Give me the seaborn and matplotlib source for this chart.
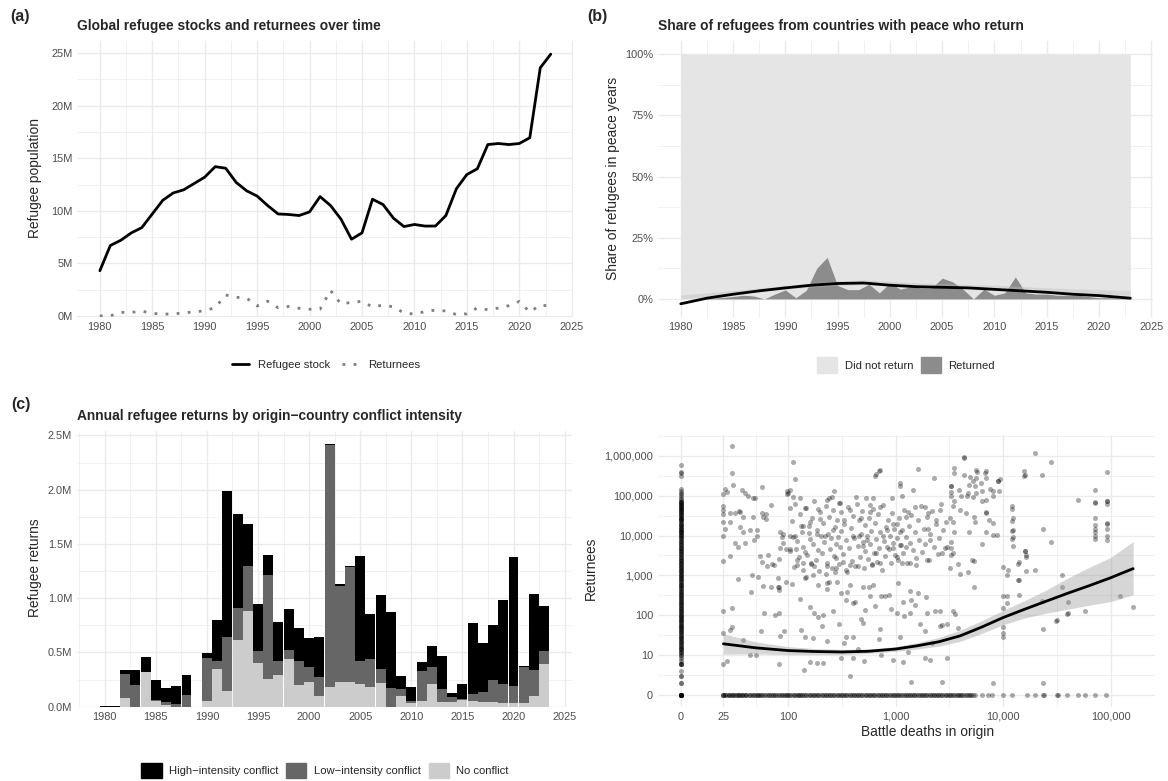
import numpy as np
import pandas as pd
import matplotlib
matplotlib.use("Agg")
import matplotlib.pyplot as plt
import seaborn as sns
from matplotlib.patches import Patch
from matplotlib.lines import Line2D
from matplotlib.ticker import FixedLocator, FixedFormatter

# ---------------- data ----------------
years = list(range(1980, 2024))

# (a) global refugee stock and returnees, millions
refugee_stock_m = [4.3, 6.7, 7.2, 7.9, 8.4, 9.7, 11.0, 11.7, 12.0, 12.6, 13.2, 14.2, 14.05, 12.7,
                   11.9, 11.4, 10.5, 9.7, 9.65, 9.55, 9.9, 11.35, 10.5, 9.2, 7.3, 7.9, 11.1, 10.6,
                   9.3, 8.5, 8.7, 8.55, 8.55, 9.55, 12.1, 13.45, 14.0, 16.3, 16.4, 16.3, 16.4,
                   16.95, 23.6, 24.9]
returnees_m = [0.005, 0.005, 0.34, 0.34, 0.46, 0.25, 0.17, 0.19, 0.29, 0.39, 0.49, 0.80, 1.99,
               1.78, 1.69, 0.95, 1.40, 0.78, 0.90, 0.73, 0.64, 0.64, 2.42, 1.13, 1.30, 1.39, 0.86,
               1.03, 0.87, 0.28, 0.18, 0.41, 0.56, 0.47, 0.13, 0.21, 0.77, 0.59, 0.75, 0.98, 1.38,
               0.37, 1.04, 0.93]

# (b) share of refugees in peace years who returned (%)
returned_share = [0.0, 0.0, 0.0, 0.3, 0.6, 1.0, 1.5, 1.2, 0.0, 2.0, 3.7, 0.5, 3.5, 12.5, 17.0,
                  5.5, 3.8, 3.8, 6.0, 2.5, 6.5, 4.0, 5.0, 4.5, 4.5, 8.5, 7.0, 4.0, 0.0, 4.0, 1.5,
                  2.5, 9.0, 2.5, 2.0, 2.0, 1.5, 1.5, 1.5, 1.0, 0.5, 0.5, 0.3, 0.3]
trend_years_b = [1980, 1982.5, 1985, 1987.5, 1990, 1992.5, 1995, 1997.5, 2000, 2002.5, 2005,
                 2007.5, 2010, 2012.5, 2015, 2017.5, 2020, 2023]
trend_share_b = [-2.0, 0.3, 1.9, 3.3, 4.5, 5.6, 6.3, 6.5, 5.6, 5.0, 4.75, 4.5, 3.9, 3.3, 2.7,
                 1.9, 1.35, 0.3]
band_lo_b = [0.0, 1.0, 2.0, 3.0, 3.9, 4.8, 5.5, 5.9, 5.3, 4.9, 4.6, 4.3, 4.0, 3.5, 3.0, 2.4, 1.9, 1.5]
band_hi_b = [1.6, 2.5, 3.4, 4.4, 5.4, 6.5, 7.4, 7.8, 7.2, 6.6, 6.2, 5.9, 5.6, 5.1, 4.6, 4.2, 3.8, 3.5]

# (c) annual returns by conflict intensity, millions (stack components)
no_conflict_m = [0.0, 0.0, 0.083, 0.0, 0.323, 0.052, 0.02, 0.0, 0.0, 0.0, 0.052, 0.347, 0.145,
                 0.615, 0.883, 0.403, 0.255, 0.292, 0.44, 0.20, 0.228, 0.098, 0.181, 0.228,
                 0.228, 0.212, 0.181, 0.22, 0.0, 0.098, 0.034, 0.052, 0.209, 0.043, 0.043,
                 0.062, 0.052, 0.043, 0.043, 0.037, 0.03, 0.03, 0.10, 0.394]
low_conflict_m = [0.0, 0.0, 0.217, 0.20, 0.0, 0.010, 0.02, 0.028, 0.108, 0.0, 0.40, 0.073,
                  0.498, 0.295, 0.415, 0.11, 0.96, 0.128, 0.083, 0.22, 0.135, 0.176, 2.234,
                  0.889, 1.06, 0.208, 0.259, 0.127, 0.172, 0.065, 0.018, 0.277, 0.157, 0.12,
                  0.049, 0.009, 0.065, 0.092, 0.203, 0.172, 0.16, 0.333, 0.238, 0.116]
high_conflict_m = [0.005, 0.005, 0.038, 0.138, 0.132, 0.184, 0.132, 0.162, 0.184, 0.0, 0.043,
                   0.38, 1.347, 0.865, 0.387, 0.434, 0.185, 0.36, 0.377, 0.305, 0.273, 0.369,
                   0.008, 0.015, 0.01, 0.969, 0.415, 0.683, 0.701, 0.12, 0.129, 0.083, 0.194,
                   0.304, 0.034, 0.138, 0.655, 0.452, 0.507, 0.775, 1.188, 0.009, 0.702, 0.418]
conflict_levels = ["High\u2212intensity conflict", "Low\u2212intensity conflict", "No conflict"]

# (d) returnees vs battle deaths (zeros shown at the "0" positions)
col0_returnees = [0, 0, 0, 0, 0, 0, 0, 0, 0, 0, 2, 2, 3, 3, 4, 6, 6, 6, 6, 7, 8, 9, 10, 10, 11,
                  12, 13, 14, 15, 16, 18, 20, 21, 23, 25, 27, 30, 32, 35, 38, 40, 44, 48, 52, 55,
                  60, 65, 70, 76, 82, 90, 95, 100, 110, 120, 130, 140, 150, 165, 180, 195, 210,
                  230, 250, 270, 290, 320, 350, 380, 410, 450, 490, 530, 580, 620, 680, 740, 800,
                  870, 950, 1000, 1100, 1200, 1300, 1400, 1500, 1650, 1800, 1950, 2100, 2300,
                  2500, 2700, 2900, 3200, 3500, 3800, 4100, 4500, 4900, 5300, 5800, 6300, 6800,
                  7400, 8000, 8700, 9500, 10000, 11000, 12000, 13000, 14000, 15500, 17000,
                  18500, 20000, 22000, 24000, 26000, 28000, 30000, 33000, 36000, 39000, 42000,
                  46000, 50000, 55000, 60000, 65000, 70000, 12000, 15000, 25000, 35000, 45000,
                  52000, 62000, 68000, 75000, 82000, 90000, 100000, 110000, 120000, 135000,
                  150000, 320000, 380000, 400000, 600000,
                  12, 14, 17, 19, 22, 26, 29, 34, 39, 45, 51, 58, 66, 75, 86, 98, 112, 128, 146,
                  166, 190, 216, 246, 281, 320, 365, 416, 474, 540, 616, 702, 800, 912, 1040,
                  1185, 1350, 1540, 1755, 2000, 2280, 2600, 2960, 3380, 3850, 4390, 5000, 5700,
                  6500, 7410, 8450, 9630, 11000, 12500, 14300, 16300, 18500, 21100, 24100,
                  27500, 31300, 35700, 40700, 46400, 52900, 60300, 68700]
row0_deaths = [25, 25, 25, 26, 27, 28, 29, 30, 31, 32, 33, 34, 35, 36, 37, 38, 40, 41, 43, 45,
               47, 49, 51, 53, 55, 57, 60, 63, 66, 69, 72, 75, 78, 82, 86, 90, 94, 98, 100, 105,
               110, 115, 120, 125, 130, 136, 142, 148, 155, 162, 170, 178, 186, 195, 205, 215,
               225, 235, 246, 258, 270, 283, 296, 310, 325, 340, 356, 373, 390, 409, 428, 448,
               470, 492, 515, 540, 565, 592, 620, 650, 680, 712, 746, 781, 818, 857, 898, 940,
               985, 1030, 1080, 1130, 1185, 1240, 1300, 1360, 1425, 1490, 1560, 1640, 1720,
               1800, 1880, 1970, 2070, 2170, 2270, 2380, 2490, 2610, 2730, 2860, 3000, 3150,
               3300, 3450, 3620, 3800, 3980, 4170, 4370, 4580, 4800, 5030, 5270, 5520, 6300,
               7300, 7800, 10000, 12000, 16700, 20000, 23500, 23800, 31500, 32500, 39500, 50000,
               58000, 71000, 91000,
               26, 28, 31, 34, 37, 41, 44, 48, 52, 56, 61, 67, 73, 80, 88, 96, 104, 114, 124,
               135, 147, 160, 175, 190, 207, 225, 245, 267, 290, 316, 344, 375, 408, 445, 485,
               528, 575, 627, 683, 744, 811, 883, 962, 1050, 1140, 1240, 1350, 1470, 1610, 1750,
               1900, 2070, 2260, 2460, 2680, 2920, 3180, 3460, 3770, 4100, 4470, 4870]
cloud_deaths = [25, 25, 25, 25, 25, 25, 25, 25, 25, 25, 26, 26, 27, 27, 29, 29, 29, 29, 30, 30,
                30, 30, 31, 32, 32, 34, 34, 35, 36, 36, 37, 38, 38, 38, 40, 40,
                42, 44, 44, 45, 46, 47, 47, 48, 49, 50, 51, 51, 53, 55, 56, 57, 57, 57, 59, 59,
                60, 62, 62, 63, 65, 69, 70, 71, 74, 75, 80, 80, 82, 82, 82, 83, 85, 88, 90, 91,
                95, 96, 98, 84, 90, 84, 82,
                104, 100, 97, 110, 112, 117, 104, 104, 105, 117, 118, 120, 122,
                660, 710, 1620, 2300, 1100, 920, 143, 190, 270, 240, 230, 255, 300, 430, 575,
                615, 575, 710, 480, 310, 330, 380, 200, 160, 133, 155, 185, 220, 263, 400, 460,
                540, 500, 660, 760, 830, 950, 1030, 1100, 1260, 1300, 1510, 1870, 2000, 2000,
                2400, 2580, 2090, 2980, 2700, 1940, 1560, 1370, 1140, 1030, 830, 950, 1100, 1260,
                710, 600, 450, 380, 345, 325, 280, 230, 175, 163, 137, 137, 148, 170, 230, 285,
                380, 310, 345, 400, 500, 575, 615, 730, 860, 1030, 1180, 1400, 1620, 1940, 2330,
                2580, 2700, 1870, 1370, 520, 500, 400, 345, 330, 230, 175, 210, 205, 143, 133,
                170, 310, 400, 505, 730, 950, 1180, 1400, 1870, 2090, 2700, 380, 185, 210, 140,
                160, 2980, 1100, 129, 137, 650, 700, 1090, 1450, 1150, 3300, 3900, 4100, 4650,
                4300, 5700, 6800, 9000,
                4300, 20000, 28000, 3500, 3500, 5600, 7000, 4300, 4900, 5600, 7000, 9300, 9000,
                5300, 4800, 5500, 6200, 15600, 15900, 15600, 23000, 3300, 3300, 4700, 5300, 5600,
                6300, 7600, 8000, 9100, 8000, 6400, 7000, 3300, 3400, 3500, 4000, 4500, 5500,
                5400, 7000, 7000, 7400, 8000, 8000, 8700, 7000, 3400, 3200, 3500, 4800, 3250,
                3300, 3400, 3300, 3200, 6400, 3800, 4000, 4700, 5100, 5400, 5400, 3400, 3600,
                3800, 12000, 12300, 12300, 12300, 12300, 14000, 16000, 16500, 20000, 23500,
                28000, 10000, 11000, 10800, 10000, 10800, 10800, 10000, 10000, 10000, 10000,
                14000, 14000, 23000, 23500, 35600, 35600, 40000, 40000, 32000, 58000, 50000,
                71000, 71000, 71000, 71000, 71000, 71000, 71000, 71000, 71000, 8000, 23500,
                93000, 93000, 93000, 93000, 93000, 93000, 93000, 93000, 93000, 122000, 160000,
                39600, 31000, 12100, 12100, 12100, 12100, 13800, 13800, 16000, 16500, 16500,
                105, 108, 113, 117, 121, 126, 129, 134, 139, 143, 147, 151, 156, 161, 163, 168,
                171, 176, 181, 186, 189, 194, 199, 203, 207, 212, 217, 223, 226, 231, 237, 242,
                246, 251, 257, 262, 266, 272, 277, 282, 287, 292, 297, 301, 306, 311, 144, 188,
                238, 275, 112,
                322, 333, 342, 353, 362, 372, 383, 392, 403, 414, 423, 433, 444, 452, 463, 474,
                483, 494, 503, 514, 523, 533, 547, 557, 568, 578, 592, 603, 617, 628, 646, 658,
                677, 692, 707, 723, 742, 763, 778, 802, 818, 843, 862, 884, 903, 922, 942, 963,
                983,
                1025, 1055, 1085, 1115, 1145, 1175, 1205, 1245, 1285, 1325, 1365, 1405, 1455,
                1505, 1555, 1605, 1655, 1705, 1765, 1825, 1885, 1955, 2025, 2105, 2185, 2265,
                2355, 2455, 2555, 2655, 2755, 2855, 2955,
                108, 130, 160, 190, 230, 260, 300, 350, 420, 480, 560, 640, 720, 800, 900, 1050,
                1200, 1350, 1500, 1700, 1900, 2200, 2600, 700, 1300, 450, 3000]
cloud_returnees = [110000, 55000, 45000, 35000, 22000, 10000, 2300, 130, 35, 6, 145000, 15000,
                   125000, 7, 37000, 22000, 3000, 42, 1800000, 380000, 150, 50, 190000, 38000,
                   6500, 5300, 800, 42000, 40000, 16000, 140000, 30000, 12000, 24, 120000, 6500,
                   100000, 14000, 10, 380, 1000, 30000, 90000, 7600, 88000, 10, 14000, 9500, 900,
                   3000, 40, 170000, 38000, 2200, 30000, 540, 112, 35000, 26000, 1700, 3300,
                   60000, 520, 1900, 1800, 100, 850, 500, 520, 420, 112, 6, 30, 9000, 11000, 40,
                   4500, 700, 130000, 12000, 6500, 5000, 2600,
                   140000, 115000, 110000, 95000, 700000, 260000, 50000, 9500, 4500, 9500, 4500,
                   1800, 2500,
                   360000, 445000, 480000, 280000, 204000, 90000, 48000, 46000, 130000, 90000,
                   80000, 92000, 67000, 95000, 60000, 90000, 40000, 52000, 27000, 40000, 25000,
                   43000, 26000, 22000, 17000, 11500, 11000, 10000, 14000, 10000, 10000, 7800,
                   5500, 3700, 10000, 14000, 19000, 20000, 12000, 30000, 40000, 52000, 52000,
                   36000, 15000, 25000, 45000, 7800, 5300, 3600, 2400, 1800, 2000, 2000, 2900,
                   5300, 5000, 5800, 5300, 2000, 1800, 1700, 1800, 1400, 2200, 1500, 1700, 1700,
                   2100, 2000, 1400, 930, 1000, 630, 700, 570, 355, 240, 200, 520, 295, 570, 295,
                   320, 112, 220, 240, 355, 112, 125, 52, 57, 40, 112, 135, 63, 29, 29, 20, 23,
                   112, 100, 52, 29, 43, 27, 8.5, 8.5, 7, 10, 7.5, 6.5, 2.1, 8.5, 7.5, 2.1, 3, 6.2,
                   6.2, 4.2, 6.5, 8.5, 29, 90000, 17000, 320000, 420000, 180000, 140000, 100000,
                   180000, 140000, 100000, 100000, 900000, 400000, 380000, 230000,
                   960000, 1200000, 690000, 490000, 380000, 450000, 420000, 330000, 300000,
                   280000, 280000, 260000, 230000, 230000, 190000, 180000, 210000, 410000,
                   330000, 310000, 330000, 180000, 125000, 115000, 94000, 120000, 135000, 150000,
                   130000, 135000, 100000, 75000, 80000, 100000, 55000, 73000, 44000, 38000,
                   22000, 30000, 40000, 36000, 25000, 21000, 10500, 10500, 12000, 22000, 27000,
                   12000, 12000, 7000, 5000, 3600, 3200, 1500, 6300, 1900, 1100, 1200, 2400, 2300,
                   520, 130, 105, 48, 55000, 27000, 14000, 9200, 5400, 2200, 4200, 3200, 1400,
                   14400, 7000, 1600, 1400, 1000, 300, 300, 200, 150, 50, 35, 28, 770, 330, 230,
                   45, 1000, 500, 220, 115, 75, 125, 80000, 140000, 70000, 65000, 27000, 18000,
                   15000, 12000, 10000, 8000, 2, 2, 400000, 75000, 72000, 62000, 21000, 20000,
                   15000, 10000, 7800, 310, 160, 104, 72, 46000, 23000, 13000, 8200, 1900, 780,
                   4200, 2900, 1300,
                   4200, 23000, 1600, 61000, 7400, 2900, 35000, 12500, 5100, 880, 48000, 3300,
                   17000, 8300, 1900, 27000, 6100, 74000, 2500, 14000, 4400, 1300, 39000, 9700,
                   3700, 21000, 6800, 1100, 56000, 2100, 11000, 30000, 4700, 8900, 1500, 44000,
                   3100, 16000, 6300, 2700, 25000, 9100, 1900, 67000, 5200, 13000, 3800, 560,
                   700, 1200, 9200,
                   3400, 19000, 7700, 1200, 52000, 4900, 15500, 2300, 31000, 8600, 1700, 62000,
                   5600, 24000, 2900, 11000, 41000, 6900, 1500, 18000, 4100, 88000, 9500, 2600,
                   27000, 6000, 13000, 1900, 47000, 3600, 21000, 8100, 2200, 35000, 5000, 12000,
                   1400, 58000, 7200, 3000, 16000, 25000, 4500, 9800, 2000, 38000, 6400, 14500,
                   3200,
                   8800, 2400, 27000, 5900, 14000, 3600, 44000, 9200, 2100, 17000, 6600, 32000,
                   4300, 12000, 2800, 24000, 7900, 55000, 3900, 15000, 6000, 29000, 2500, 11000,
                   42000, 5200, 19000, 3400, 8600, 62000, 13500, 4900, 22000,
                   600, 250, 160, 90, 450, 130, 60, 380, 220, 80, 520, 170, 45, 300, 140, 650, 95,
                   400, 180, 60, 280, 20, 130, 25, 12, 14, 60]
trend_deaths_d = [25, 50, 100, 178, 316, 562, 1000, 1585, 2512, 3981, 6310, 10000, 15850,
                  25120, 39810, 63100, 100000, 162000]
trend_returnees_d = [19.1, 15.1, 12.9, 12.2, 11.9, 12.4, 14.1, 17.0, 21.4, 30.2, 50.1, 87.1,
                     141, 224, 355, 550, 871, 1480]
band_lo_d = [10.5, 10.7, 10.2, 10.2, 10.2, 11.0, 12.3, 14.1, 16.6, 21.9, 34.7, 57.5, 85.1,
             112, 141, 178, 219, 324]
band_hi_d = [33.9, 21.4, 16.2, 14.5, 13.8, 14.1, 16.2, 20.4, 27.5, 41.7, 72.4, 132, 234, 427,
             851, 1585, 2818, 7080]

# ---------------- figure ----------------
W, H = 1168, 781
sns.set_theme(style="white")
plt.rcParams["font.family"] = ["Liberation Sans", "DejaVu Sans"]
fig = plt.figure(figsize=(W / 100, H / 100), dpi=100)

TICK_FS = 7.9
TICK_C = "#4D4D4D"
GRID_C = "#EBEBEB"


def add_ax(l, t, r, b):
    return fig.add_axes([l / W, 1 - b / H, (r - l) / W, (b - t) / H])


def style(ax):
    for s in ax.spines.values():
        s.set_visible(False)
    ax.set_axisbelow(True)
    ax.grid(True, which="major", color=GRID_C, linewidth=1.0)
    ax.grid(True, which="minor", color=GRID_C, linewidth=0.5)
    ax.tick_params(which="both", length=0, labelsize=TICK_FS, labelcolor=TICK_C, pad=3.5)
    ax.set_xlabel("")
    ax.set_ylabel("")


def ftext(x, y, s, **kw):
    fig.text(x / W, 1 - y / H, s, **kw)


year_major = list(range(1980, 2030, 5))
year_minor = [1977.5 + 5 * i for i in range(10)]

# ---------- (a) ----------
axa = add_ax(77.3, 41, 573.3, 317)
sns.lineplot(x=years, y=refugee_stock_m, ax=axa, color="black", linewidth=2.0)
sns.lineplot(x=years, y=returnees_m, ax=axa, color="#7F7F7F", linewidth=2.0,
             linestyle=(0, (1, 3)), dash_capstyle="butt")
axa.set_xlim(1977.85, 2025.15)
axa.set_ylim(-0.1, 26.15)
axa.xaxis.set_major_locator(FixedLocator(year_major))
axa.xaxis.set_minor_locator(FixedLocator(year_minor))
axa.yaxis.set_major_locator(FixedLocator([0, 5, 10, 15, 20, 25]))
axa.yaxis.set_minor_locator(FixedLocator([2.5, 7.5, 12.5, 17.5, 22.5]))
axa.set_yticklabels(["0M", "5M", "10M", "15M", "20M", "25M"])
style(axa)
axa.legend(handles=[Line2D([], [], color="black", lw=2.0),
                    Line2D([], [], color="#7F7F7F", lw=2.0, linestyle=(0, (1, 3)))],
           labels=["Refugee stock", "Returnees"], ncol=2, frameon=False, fontsize=8.1,
           loc="center", bbox_to_anchor=(326 / W, 1 - 365 / H), bbox_transform=fig.transFigure,
           handlelength=1.5, handletextpad=0.85, columnspacing=1.0)

# ---------- (b) ----------
axb = add_ax(658.3, 41, 1152.8, 317.5)
axb.fill_between(years, returned_share, 100, color="#E5E5E5", linewidth=0)
axb.fill_between(years, 0, returned_share, color="#8C8C8C", linewidth=0)
axb.fill_between(trend_years_b, band_lo_b, band_hi_b, color="#BFBFBF", alpha=0.4, linewidth=0)
sns.lineplot(x=trend_years_b, y=trend_share_b, ax=axb, color="black", linewidth=2.0)
axb.set_xlim(1977.85, 2025.15)
axb.set_ylim(-7.6, 105.4)
axb.xaxis.set_major_locator(FixedLocator(year_major))
axb.xaxis.set_minor_locator(FixedLocator(year_minor))
axb.yaxis.set_major_locator(FixedLocator([0, 25, 50, 75, 100]))
axb.yaxis.set_minor_locator(FixedLocator([12.5, 37.5, 62.5, 87.5]))
axb.set_yticklabels(["0%", "25%", "50%", "75%", "100%"])
style(axb)
axb.legend(handles=[Patch(color="#E5E5E5"), Patch(color="#8C8C8C")],
           labels=["Did not return", "Returned"], ncol=2, frameon=False, fontsize=8.1,
           loc="center", bbox_to_anchor=(906 / W, 1 - 365 / H), bbox_transform=fig.transFigure,
           handlelength=1.8, handleheight=1.8, handletextpad=0.65, columnspacing=0.7)

# ---------- (c) ----------
axc = add_ax(77.1, 430.7, 571.8, 706.7)
dfc = pd.DataFrame({
    "year": years * 3,
    "returns": high_conflict_m + low_conflict_m + no_conflict_m,
    "conflict": [conflict_levels[0]] * len(years) + [conflict_levels[1]] * len(years)
                + [conflict_levels[2]] * len(years),
})
cpal = {conflict_levels[0]: "#000000", conflict_levels[1]: "#666666", conflict_levels[2]: "#CCCCCC"}
sns.histplot(data=dfc, x="year", weights="returns", hue="conflict", hue_order=conflict_levels,
             multiple="stack", discrete=True, shrink=0.97, palette=cpal, alpha=1.0,
             linewidth=0, ax=axc, legend=False)
axc.set_xlim(1977.3, 2025.7)
axc.set_ylim(0, 2.544)
axc.xaxis.set_major_locator(FixedLocator(year_major))
axc.xaxis.set_minor_locator(FixedLocator(year_minor))
axc.yaxis.set_major_locator(FixedLocator([0, 0.5, 1.0, 1.5, 2.0, 2.5]))
axc.yaxis.set_minor_locator(FixedLocator([0.25, 0.75, 1.25, 1.75, 2.25]))
axc.set_yticklabels(["0.0M", "0.5M", "1.0M", "1.5M", "2.0M", "2.5M"])
style(axc)
axc.legend(handles=[Patch(color=cpal[c]) for c in conflict_levels], labels=conflict_levels,
           ncol=3, frameon=False, fontsize=8.1, loc="center",
           bbox_to_anchor=(325 / W, 1 - 770.5 / H), bbox_transform=fig.transFigure,
           handlelength=1.8, handleheight=1.7, handletextpad=0.65, columnspacing=0.7)

# ---------- (d) ----------
axd = add_ax(658, 434.5, 1154.7, 707.1)
dd = pd.DataFrame({
    "deaths": [0] * len(col0_returnees) + row0_deaths + cloud_deaths,
    "returnees": col0_returnees + [0] * len(row0_deaths) + cloud_returnees,
})
ZERO_X, ZERO_Y = 10, 1  # display positions of the "0" ticks
dd["xpos"] = np.where(dd["deaths"] == 0, ZERO_X, dd["deaths"])
dd["ypos"] = np.where(dd["returnees"] == 0, ZERO_Y, dd["returnees"])
axd.set_xscale("log")
axd.set_yscale("log")
sns.scatterplot(data=dd, x="xpos", y="ypos", ax=axd, color="black", alpha=0.33, s=13,
                linewidth=0)
axd.fill_between(trend_deaths_d, band_lo_d, band_hi_d, color="#999999", alpha=0.4, linewidth=0)
sns.lineplot(x=trend_deaths_d, y=trend_returnees_d, ax=axd, color="black", linewidth=2.0)
axd.set_xlim(10 ** 0.79, 10 ** 5.41)
axd.set_ylim(10 ** -0.31, 10 ** 6.54)
xt = [ZERO_X, 25, 100, 1000, 10000, 100000]
axd.xaxis.set_major_locator(FixedLocator(xt))
axd.xaxis.set_major_formatter(FixedFormatter(["0", "25", "100", "1,000", "10,000", "100,000"]))
axd.xaxis.set_minor_locator(FixedLocator([10 ** 1.699, 10 ** 2.5, 10 ** 3.5, 10 ** 4.5]))
axd.xaxis.set_minor_formatter(FixedFormatter([""] * 4))
yt = [ZERO_Y, 10, 100, 1000, 10000, 100000, 1000000]
axd.yaxis.set_major_locator(FixedLocator(yt))
axd.yaxis.set_major_formatter(FixedFormatter(["0", "10", "100", "1,000", "10,000", "100,000",
                                              "1,000,000"]))
axd.yaxis.set_minor_locator(FixedLocator([10 ** (k + 0.5) for k in range(7)]))
axd.yaxis.set_minor_formatter(FixedFormatter([""] * 7))
style(axd)

# ---------- texts ----------
ftext(10, 16, "(a)", fontsize=11.5, fontweight="bold", va="center", ha="left")
ftext(587, 16, "(b)", fontsize=11.5, fontweight="bold", va="center", ha="left")
ftext(11, 405, "(c)", fontsize=11.5, fontweight="bold", va="center", ha="left")
ftext(77.3, 26, "Global refugee stocks and returnees over time", fontsize=9.9,
      fontweight="bold", va="center", ha="left")
ftext(658.5, 26, "Share of refugees from countries with peace who return", fontsize=9.9,
      fontweight="bold", va="center", ha="left")
ftext(77.1, 416, "Annual refugee returns by origin\u2212country conflict intensity", fontsize=9.9,
      fontweight="bold", va="center", ha="left")
ftext(35.4, 178, "Refugee population", fontsize=9.9, rotation=90, va="center", ha="center")
ftext(613, 178, "Share of refugees in peace years", fontsize=9.9, rotation=90, va="center",
      ha="center")
ftext(35.4, 568, "Refugee returns", fontsize=9.9, rotation=90, va="center", ha="center")
ftext(590.7, 568, "Returnees", fontsize=9.9, rotation=90, va="center", ha="center")
ftext(928, 732, "Battle deaths in origin", fontsize=9.9, va="center", ha="center")

fig.savefig("out.png", dpi=100, facecolor="white")
